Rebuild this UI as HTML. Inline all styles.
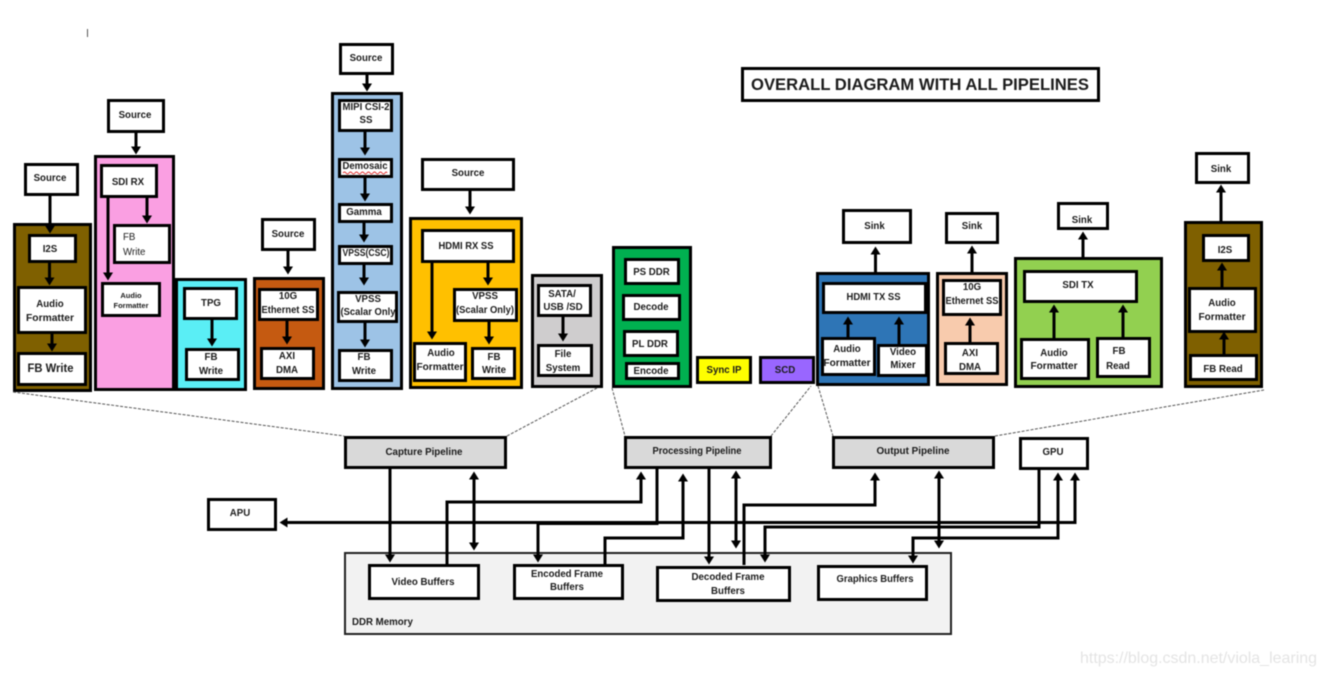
<!DOCTYPE html>
<html><head><meta charset="utf-8"><title>Overall diagram</title>
<style>
html,body{margin:0;padding:0;background:#fff;width:1325px;height:676px;overflow:hidden}
svg{display:block;filter:blur(0.4px)}
text{font-family:"Liberation Sans",sans-serif;font-size:9.7px;font-weight:bold;fill:#1c1c1c;text-anchor:middle}
.b rect{stroke:#000;stroke-width:3}
.w rect{fill:#fff;stroke:#000;stroke-width:3}
.a path{fill:none;stroke:#000;stroke-width:3;marker-end:url(#h)}
.d path{fill:none;stroke:#000;stroke-width:3;marker-end:url(#h);marker-start:url(#s)}
.n path{fill:none;stroke:#000;stroke-width:3}
.z path{fill:none;stroke:#555;stroke-width:1;stroke-dasharray:3 1.5}
</style></head><body>
<svg width="1325" height="676" viewBox="0 0 1325 676" xmlns="http://www.w3.org/2000/svg">
<defs>
<marker id="h" markerUnits="userSpaceOnUse" markerWidth="11" markerHeight="11" refX="0.5" refY="5.5" orient="auto"><path d="M0 .5L8 5.5L0 10.5Z" fill="#000"/></marker>
<marker id="s" markerUnits="userSpaceOnUse" markerWidth="11" markerHeight="11" refX="0.5" refY="5.5" orient="auto-start-reverse"><path d="M0 .5L8 5.5L0 10.5Z" fill="#000"/></marker>
</defs>
<rect x="87" y="29" width="1" height="8" fill="#555"/>

<g class="b">
<rect x="14.5" y="224.5" width="76" height="166" fill="#7f6000"/>
<rect x="95.5" y="156.5" width="78" height="233" fill="#fa9fe2"/>
<rect x="176.5" y="279.5" width="69" height="110" fill="#5aeef5"/>
<rect x="254.5" y="278.5" width="69" height="110" fill="#c55a11"/>
<rect x="332.5" y="93.5" width="69" height="295" fill="#9dc3e6"/>
<rect x="410.5" y="218.5" width="111" height="169" fill="#ffc000"/>
<rect x="532.5" y="275.5" width="69" height="111" fill="#cfcdce"/>
<rect x="613.5" y="247.5" width="77" height="139" fill="#00b050"/>
<rect x="697.5" y="357.5" width="53" height="25" fill="#ffff00"/>
<rect x="760.5" y="357.5" width="53" height="25" fill="#9966ff"/>
<rect x="817.5" y="273.5" width="111" height="111" fill="#2e75b6"/>
<rect x="937.5" y="273.5" width="69" height="111" fill="#f8cbad"/>
<rect x="1015.5" y="258.5" width="146" height="128" fill="#92d050"/>
<rect x="1185.5" y="222.5" width="76" height="164" fill="#7f6000"/>
<rect x="345" y="553" width="606" height="81" fill="#f2f2f2" style="stroke:#222;stroke-width:2"/>
<rect x="345.5" y="437.5" width="160" height="30" fill="#d9d9d9"/>
<rect x="625.5" y="437.5" width="145" height="30" fill="#d9d9d9"/>
<rect x="833.5" y="437.5" width="160" height="30" fill="#d9d9d9"/>
</g>

<g class="w">
<rect x="742.5" y="68.5" width="356" height="32"/>
<rect x="25.5" y="164.5" width="52" height="30"/>
<rect x="29.5" y="235.5" width="46" height="26"/>
<rect x="18.5" y="287.5" width="67" height="45"/>
<rect x="18.5" y="353.5" width="67" height="31"/>
<rect x="108.5" y="100.5" width="55" height="31"/>
<rect x="101.5" y="165.5" width="55" height="31"/>
<rect x="114.5" y="225.5" width="55" height="37"/>
<rect x="102.5" y="283.5" width="57" height="32"/>
<rect x="184.5" y="288.5" width="52" height="30"/>
<rect x="186.5" y="349.5" width="52" height="30"/>
<rect x="262.5" y="219.5" width="52" height="30"/>
<rect x="259.5" y="289.5" width="58" height="30"/>
<rect x="261.5" y="348.5" width="52" height="30"/>
<rect x="340.5" y="44.5" width="52" height="29"/>
<rect x="339.5" y="100.5" width="52" height="30"/>
<rect x="339.5" y="159.5" width="52" height="17"/>
<rect x="339.5" y="204.5" width="52" height="17"/>
<rect x="339.5" y="246.5" width="52" height="17"/>
<rect x="338.5" y="292.5" width="58" height="29"/>
<rect x="339.5" y="350.5" width="52" height="30"/>
<rect x="422.5" y="159.5" width="91" height="30"/>
<rect x="422.5" y="230.5" width="91" height="31"/>
<rect x="454.5" y="289.5" width="62" height="31"/>
<rect x="414.5" y="343.5" width="51" height="37"/>
<rect x="472.5" y="348.5" width="42" height="30"/>
<rect x="538.5" y="285.5" width="52" height="30"/>
<rect x="538.5" y="345.5" width="53" height="30"/>
<rect x="625.5" y="259.5" width="53" height="24"/>
<rect x="623.5" y="295.5" width="56" height="24"/>
<rect x="624.5" y="331.5" width="53" height="24"/>
<rect x="626.5" y="363.5" width="52" height="15"/>
<rect x="843.5" y="210.5" width="67" height="32"/>
<rect x="823.5" y="283.5" width="102" height="29"/>
<rect x="822.5" y="338.5" width="52" height="36"/>
<rect x="878.5" y="345.5" width="48" height="30"/>
<rect x="946.5" y="213.5" width="51" height="29"/>
<rect x="943.5" y="280.5" width="57" height="34"/>
<rect x="945.5" y="343.5" width="52" height="30"/>
<rect x="1058.5" y="203.5" width="49" height="25"/>
<rect x="1024.5" y="271.5" width="112" height="30"/>
<rect x="1021.5" y="339.5" width="67" height="39"/>
<rect x="1097.5" y="338.5" width="52" height="38"/>
<rect x="1196.5" y="153.5" width="52" height="29"/>
<rect x="1203.5" y="235.5" width="45" height="25"/>
<rect x="1189.5" y="288.5" width="66" height="43"/>
<rect x="1190.5" y="355.5" width="66" height="24"/>
<rect x="208.5" y="499.5" width="67" height="30"/>
<rect x="1020.5" y="438.5" width="67" height="30"/>
<rect x="369.5" y="565.5" width="109" height="33"/>
<rect x="514.5" y="565.5" width="108" height="33"/>
<rect x="657.5" y="567.5" width="132" height="33"/>
<rect x="818.5" y="566.5" width="108" height="33"/>
</g>

<g class="z">
<path d="M13 392L344 436"/>
<path d="M507 436L597 388"/>
<path d="M612 388L625 436"/>
<path d="M771 436L811 386"/>
<path d="M818 386L833 436"/>
<path d="M995 436L1264 390"/>
</g>

<g class="a">
<path d="M50 196V226"/><path d="M49.5 263V278"/><path d="M52 332V344"/>
<path d="M136 133V147"/><path d="M147 198V216"/><path d="M108 198V273"/>
<path d="M212 320V339"/><path d="M288 251V267"/><path d="M287 321V337"/>
<path d="M367 75V84"/><path d="M365 132V148"/><path d="M365 178V194"/><path d="M364 223V235"/><path d="M364 265V278"/><path d="M365 323V340"/>
<path d="M470 191V207"/><path d="M488 263V278"/><path d="M489 322V337"/><path d="M432 263V332"/>
<path d="M563 317V334"/>
<path d="M875.5 272V254"/><path d="M972 272V253"/><path d="M1083 257V239"/><path d="M1221 221V192"/>
<path d="M848 337V324"/><path d="M899 344V324"/><path d="M970 342V325"/>
<path d="M1054 338V312"/><path d="M1123 337V312"/>
<path d="M1222 287V270"/><path d="M1224 354V339"/>
<path d="M390 469V555"/>
<path d="M447 564V502H641V479"/>
<path d="M1075 480V522.5H287" style="marker-start:url(#s)"/>
<path d="M538 523V555"/>
<path d="M605 564V538H683V481"/>
<path d="M709 469V557"/>
<path d="M744 565V505H875V480"/>
<path d="M1039 470V527H765V555"/>
<path d="M913 556V538H1058V480" style="marker-start:url(#s)"/>
</g>
<g class="n"><path d="M657 469V523.5H538"/></g>
<g class="d">
<path d="M474 479V543"/><path d="M736 478V541"/><path d="M939 478V541"/>
</g>

<path d="M343 173q1.5 -2 3 0t3 0t3 0t3 0t3 0t3 0t3 0t3 0t3 0t3 0t3 0t3 0t3 0t3 0t2 0" fill="none" stroke="#e03030" stroke-width="1"/>

<text x="920" y="90" style="font-size:17px" textLength="338" lengthAdjust="spacingAndGlyphs">OVERALL DIAGRAM WITH ALL PIPELINES</text>
<text x="50" y="181">Source</text><text x="50" y="252">I2S</text>
<text x="50" y="307">Audio</text><text x="50" y="321" textLength="48" lengthAdjust="spacingAndGlyphs">Formatter</text>
<text x="50.5" y="372" style="font-size:11.5px" textLength="46" lengthAdjust="spacingAndGlyphs">FB Write</text>
<text x="135" y="118">Source</text><text x="128" y="185">SDI RX</text>
<text x="123" y="240" style="text-anchor:start;font-weight:normal">FB</text><text x="123" y="255" style="text-anchor:start;font-weight:normal">Write</text>
<text x="131" y="298" style="font-size:7.5px">Audio</text><text x="131" y="308" style="font-size:7.5px">Formatter</text>
<text x="211" y="306">TPG</text><text x="211" y="360">FB</text><text x="211" y="374">Write</text>
<text x="288" y="237">Source</text><text x="288" y="299">10G</text><text x="288" y="313" textLength="53" lengthAdjust="spacingAndGlyphs">Ethernet SS</text>
<text x="287" y="359">AXI</text><text x="287" y="373">DMA</text>
<text x="366" y="61">Source</text><text x="366" y="110" textLength="47" lengthAdjust="spacingAndGlyphs">MIPI CSI-2</text><text x="366" y="123">SS</text>
<text x="365" y="169" textLength="45" lengthAdjust="spacingAndGlyphs">Demosaic</text><text x="364" y="215">Gamma</text><text x="366" y="256" textLength="47" lengthAdjust="spacingAndGlyphs">VPSS(CSC)</text>
<text x="368" y="302">VPSS</text><text x="368" y="315" textLength="55" lengthAdjust="spacingAndGlyphs">(Scalar Only</text>
<text x="364" y="360">FB</text><text x="364" y="374">Write</text>
<text x="468" y="176">Source</text><text x="466" y="249" textLength="55" lengthAdjust="spacingAndGlyphs">HDMI RX SS</text>
<text x="485" y="299">VPSS</text><text x="485" y="313" textLength="58" lengthAdjust="spacingAndGlyphs">(Scalar Only)</text>
<text x="441" y="356">Audio</text><text x="440" y="370" textLength="47" lengthAdjust="spacingAndGlyphs">Formatter</text>
<text x="494" y="360">FB</text><text x="494" y="373">Write</text>
<text x="562" y="297">SATA/</text><text x="563" y="310">USB /SD</text>
<text x="563" y="357">File</text><text x="563" y="371">System</text>
<text x="651.5" y="275">PS DDR</text><text x="651" y="310">Decode</text><text x="650" y="347">PL DDR</text><text x="651" y="374">Encode</text>
<text x="724" y="373">Sync IP</text><text x="785" y="373">SCD</text>
<text x="874.5" y="229">Sink</text><text x="873.5" y="300" textLength="54" lengthAdjust="spacingAndGlyphs">HDMI TX SS</text>
<text x="847" y="352">Audio</text><text x="847" y="366" textLength="47" lengthAdjust="spacingAndGlyphs">Formatter</text>
<text x="903" y="355">Video</text><text x="903" y="368">Mixer</text>
<text x="972" y="229">Sink</text><text x="972" y="290">10G</text><text x="972" y="304" textLength="53" lengthAdjust="spacingAndGlyphs">Ethernet SS</text>
<text x="970" y="356">AXI</text><text x="970" y="370">DMA</text>
<text x="1082" y="223">Sink</text><text x="1078" y="288">SDI TX</text>
<text x="1054" y="356">Audio</text><text x="1054" y="369" textLength="47" lengthAdjust="spacingAndGlyphs">Formatter</text>
<text x="1119" y="354">FB</text><text x="1118" y="369">Read</text>
<text x="1221" y="172">Sink</text><text x="1225" y="253">I2S</text>
<text x="1222" y="306">Audio</text><text x="1222" y="320" textLength="47" lengthAdjust="spacingAndGlyphs">Formatter</text><text x="1223" y="372">FB Read</text>
<text x="424" y="455" textLength="77" lengthAdjust="spacingAndGlyphs">Capture Pipeline</text><text x="697" y="454" textLength="89" lengthAdjust="spacingAndGlyphs">Processing Pipeline</text>
<text x="913" y="454" textLength="73" lengthAdjust="spacingAndGlyphs">Output Pipeline</text><text x="1053" y="455">GPU</text>
<text x="240" y="516">APU</text><text x="423" y="585" textLength="63" lengthAdjust="spacingAndGlyphs">Video Buffers</text>
<text x="567" y="577" textLength="72" lengthAdjust="spacingAndGlyphs">Encoded Frame</text><text x="567" y="590">Buffers</text>
<text x="728" y="580" textLength="73" lengthAdjust="spacingAndGlyphs">Decoded Frame</text><text x="728" y="594">Buffers</text>
<text x="875" y="582" textLength="77" lengthAdjust="spacingAndGlyphs">Graphics Buffers</text>
<text x="352" y="625" style="text-anchor:start">DDR Memory</text>
<text x="1080" y="663" style="text-anchor:start;font-size:16px;font-weight:normal;fill:#e4e4e4" textLength="237" lengthAdjust="spacingAndGlyphs">https://blog.csdn.net/viola_learing</text>
</svg>
</body></html>
